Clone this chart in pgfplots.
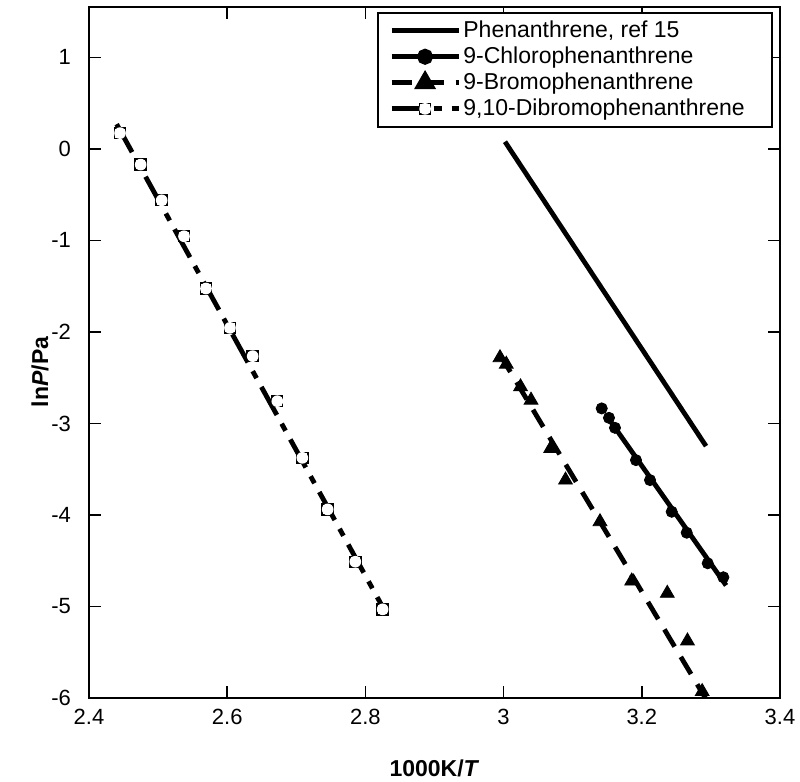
\documentclass[border=0pt]{standalone}
\usepackage{fontspec}
\setmainfont{Liberation Sans}
\usepackage{pgfplots}
\pgfplotsset{compat=1.18}
\pgfdeclareplotmark{sqc}{%
  \pgfpathrectangle{\pgfqpoint{-\pgfplotmarksize}{-\pgfplotmarksize}}{\pgfqpoint{2\pgfplotmarksize}{2\pgfplotmarksize}}%
  \pgfusepathqstroke
  \pgfsetfillcolor{white}%
  \pgfpathcircle{\pgfpointorigin}{1.08\pgfplotmarksize}%
  \pgfusepathqfill
}
\begin{document}
\begin{tikzpicture}[font=\fontsize{11}{13}\selectfont]
\useasboundingbox (-44.5pt,-42pt) rectangle (355.5pt,349pt);
\begin{axis}[
  at={(0pt,0pt)}, anchor=south west,
  scale only axis, width=345.5pt, height=345.5pt,
  xmin=2.4, xmax=3.4, ymin=-6, ymax=1.55,
  xtick={2.4,2.6,2.8,3.0,3.2,3.4},
  ytick={-6,-5,-4,-3,-2,-1,0,1},
  /pgf/number format/assume math mode=true,
  tick align=inside, major tick length=6pt,
  axis line style={line width=1pt},
  every tick/.style={black, line width=0.8pt},
  xticklabel style={yshift=-2pt},
  yticklabel style={xshift=-5.5pt},
  xlabel={\textbf{1000K/\textit{T}}},
  ylabel={\textbf{ln\textit{P}/Pa}},
  xlabel style={at={(axis description cs:0.5,0)}, anchor=center, yshift=-35pt, font=\fontsize{11.5}{13}\selectfont},
  ylabel style={at={(axis description cs:-0.0709,0.472)}, anchor=center, inner sep=1pt, font=\fontsize{11.5}{13}\selectfont},
  legend cell align=left,
  legend style={at={(0.99,0.993)}, anchor=north east, draw=black, line width=1pt,
    font=\fontsize{11.5}{13}\selectfont, row sep=-0.8pt, inner xsep=5.5pt,
    nodes={inner xsep=1.2pt}},
  legend image code/.code={\draw[mark repeat=2,mark phase=2,#1] plot coordinates {(0pt,0pt) (16.75pt,0pt) (33.5pt,0pt)};},
]
\addlegendimage{black, line width=2.4pt}
\addlegendentry{Phenanthrene, ref 15}
\addlegendimage{black, line width=2.4pt, mark=*, mark size=2.8pt}
\addlegendentry{9-Chlorophenanthrene}
\addlegendimage{black, line width=2.4pt, dash pattern=on 10pt off 6pt, mark=triangle*, mark size=4pt, mark options={solid}}
\addlegendentry{9-Bromophenanthrene}
\addlegendimage{black, line width=2.4pt, dash pattern=on 16pt off 5pt on 4pt off 5pt, mark=sqc, mark size=2.7pt, mark options={solid, line width=0.8pt}}
\addlegendentry{9,10-Dibromophenanthrene\hspace*{7pt}}

% Phenanthrene, ref 15 (line)
\addplot[black, line width=2.4pt, forget plot] coordinates {(3.002,0.078) (3.293,-3.248)};

% 9-Chlorophenanthrene fit line
\addplot[black, line width=2.4pt, forget plot] coordinates {(3.155,-2.98) (3.322,-4.77)};
% 9-Chlorophenanthrene data
\addplot[only marks, mark=*, mark size=2.8pt, black, forget plot] coordinates {
(3.1420,-2.836) (3.1525,-2.939) (3.1612,-3.048) (3.1916,-3.401) (3.2119,-3.619)
(3.2433,-3.965) (3.2650,-4.194) (3.2954,-4.528) (3.3180,-4.681)};

% 9-Bromophenanthrene fit line
\addplot[black, line width=2.4pt, dash pattern=on 10pt off 6pt, forget plot] coordinates {(2.995,-2.25) (3.292,-6.0)};
% 9-Bromophenanthrene data
\addplot[only marks, mark=triangle*, mark size=4pt, black, forget plot] coordinates {
(2.9948,-2.282) (3.0039,-2.353) (3.0245,-2.600) (3.0397,-2.746) (3.0682,-3.273)
(3.0896,-3.619) (3.1395,-4.074) (3.1854,-4.722) (3.2369,-4.856) (3.2661,-5.377) (3.2874,-5.930)};

% 9,10-Dibromophenanthrene fit line
\addplot[black, line width=2.4pt, dash pattern=on 16pt off 5pt on 4pt off 5pt, forget plot] coordinates {(2.440,0.27) (2.826,-5.02)};
% 9,10-Dibromophenanthrene data
\addplot[only marks, mark=sqc, mark size=2.7pt, black, mark options={line width=0.8pt}, forget plot] coordinates {
(2.4449,0.172) (2.4748,-0.172) (2.5052,-0.562) (2.5375,-0.955) (2.5693,-1.526)
(2.6040,-1.956) (2.6369,-2.265) (2.6725,-2.757) (2.7087,-3.376) (2.7454,-3.939)
(2.7854,-4.511) (2.8250,-5.031)};
\end{axis}
\end{tikzpicture}
\end{document}
